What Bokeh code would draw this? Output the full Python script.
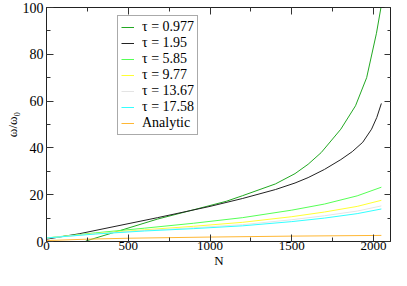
from bokeh.plotting import figure
from bokeh.models import (Range1d, LinearAxis, Legend, LegendItem,
                          SingleIntervalTicker, CustomJSTickFormatter)
from bokeh.embed import file_html
from bokeh.resources import INLINE

# ---- data ----
n_t0977 = [240, 400, 680, 880, 1100, 1200, 1400, 1520, 1600, 1680, 1800, 1890, 1958, 2018, 2048]
w_t0977 = [0.2, 3.6, 9.6, 13.2, 17.2, 19.6, 24.6, 29.0, 33.0, 38.0, 48.0, 58.0, 70.0, 89.0, 101.0]

n_t195 = [0, 200, 680, 1000, 1200, 1400, 1520, 1600, 1700, 1800, 1870, 1934, 1988, 2020, 2048]
w_t195 = [1.0, 3.3, 10.2, 15.0, 18.4, 22.2, 25.0, 27.3, 30.8, 35.0, 38.4, 42.4, 48.0, 53.0, 59.0]

n_common = [0, 300, 600, 900, 1200, 1500, 1700, 1900, 2048]
w_t585 = [1.5, 3.7, 5.7, 7.8, 10.2, 13.4, 16.0, 19.5, 23.2]
w_t977 = [1.5, 3.4, 5.0, 6.5, 8.2, 10.6, 12.6, 15.0, 17.6]
w_t1367 = [1.5, 3.3, 4.7, 5.9, 7.2, 9.3, 11.0, 13.0, 15.2]
w_t1758 = [1.5, 3.2, 4.5, 5.5, 6.7, 8.5, 10.0, 11.9, 13.9]

n_analytic = [0, 250, 500, 1000, 1500, 2048]
w_analytic = [0.4, 1.0, 1.4, 1.9, 2.3, 2.6]

labels = ["τ = 0.977", "τ = 1.95", "τ = 5.85", "τ = 9.77", "τ = 13.67", "τ = 17.58", "Analytic"]
colors = ["#22a822", "#222222", "#55ff55", "#ffff33", "#e4e4e4", "#33ffff", "#ffb733"]

x_ticks_interval = 500
y_ticks_interval = 20

FONT = "Liberation Serif"

p = figure(width=391, height=270, output_backend="svg", toolbar_location=None,
           x_range=Range1d(0, 2110), y_range=Range1d(0, 100),
           min_border_left=46, min_border_right=0, min_border_top=7, min_border_bottom=0)

p.grid.visible = False
p.outline_line_color = "#222222"
p.outline_line_width = 1
p.background_fill_color = "white"
p.border_fill_color = "white"

p.xaxis.ticker = SingleIntervalTicker(interval=x_ticks_interval, num_minor_ticks=2)
p.yaxis.ticker = SingleIntervalTicker(interval=y_ticks_interval, num_minor_ticks=2)

def style_axis(ax):
    ax.axis_line_color = "#222222"
    ax.major_tick_in = 7
    ax.major_tick_out = 0
    ax.minor_tick_in = 4
    ax.minor_tick_out = 0
    ax.major_tick_line_color = "#333333"
    ax.minor_tick_line_color = "#333333"
    ax.major_label_text_font = FONT
    ax.major_label_text_font_size = "13px"
    ax.major_label_text_color = "black"
    ax.axis_label_text_font = FONT
    ax.axis_label_text_font_size = "13px"
    ax.axis_label_text_font_style = "normal"
    ax.axis_label_text_color = "black"
    ax.major_label_standoff = 1
    ax.axis_label_standoff = 0

for ax in (p.xaxis[0], p.yaxis[0]):
    style_axis(ax)
p.xaxis.axis_label = "N"
p.yaxis.axis_label = "ω/ω₀"
p.xaxis.major_label_standoff = 0
p.yaxis.major_label_text_font_size = "14px"
p.yaxis.major_label_standoff = 3

empty = CustomJSTickFormatter(code="return ''")
top = LinearAxis(ticker=SingleIntervalTicker(interval=x_ticks_interval, num_minor_ticks=2), formatter=empty)
right = LinearAxis(ticker=SingleIntervalTicker(interval=y_ticks_interval, num_minor_ticks=2), formatter=empty)
for ax in (top, right):
    style_axis(ax)
    ax.major_label_standoff = 0
    ax.axis_label_standoff = 0
    ax.major_label_text_font_size = "0px"
    ax.axis_label_text_font_size = "0px"
p.add_layout(top, "above")
p.add_layout(right, "right")

series = [(n_t0977, w_t0977), (n_t195, w_t195), (n_common, w_t585), (n_common, w_t977),
          (n_common, w_t1367), (n_common, w_t1758), (n_analytic, w_analytic)]
renderers = []
for (xs, ys), c in zip(series, colors):
    renderers.append(p.line(xs, ys, line_color=c, line_width=1))

items = [LegendItem(label=l, renderers=[r]) for l, r in zip(labels, renderers)]
legend = Legend(items=items, location=(71, 106))
legend.label_text_font = FONT
legend.label_text_font_size = "14px"
legend.label_text_color = "black"
legend.glyph_width = 13
legend.glyph_height = 10
legend.label_height = 10
legend.label_standoff = 8
legend.spacing = -2
legend.padding = 3
legend.margin = 0
legend.border_line_color = "#555555"
legend.border_line_width = 1
legend.background_fill_alpha = 1
p.add_layout(legend, "center")

open("out.html", "w").write(file_html(p, INLINE))
